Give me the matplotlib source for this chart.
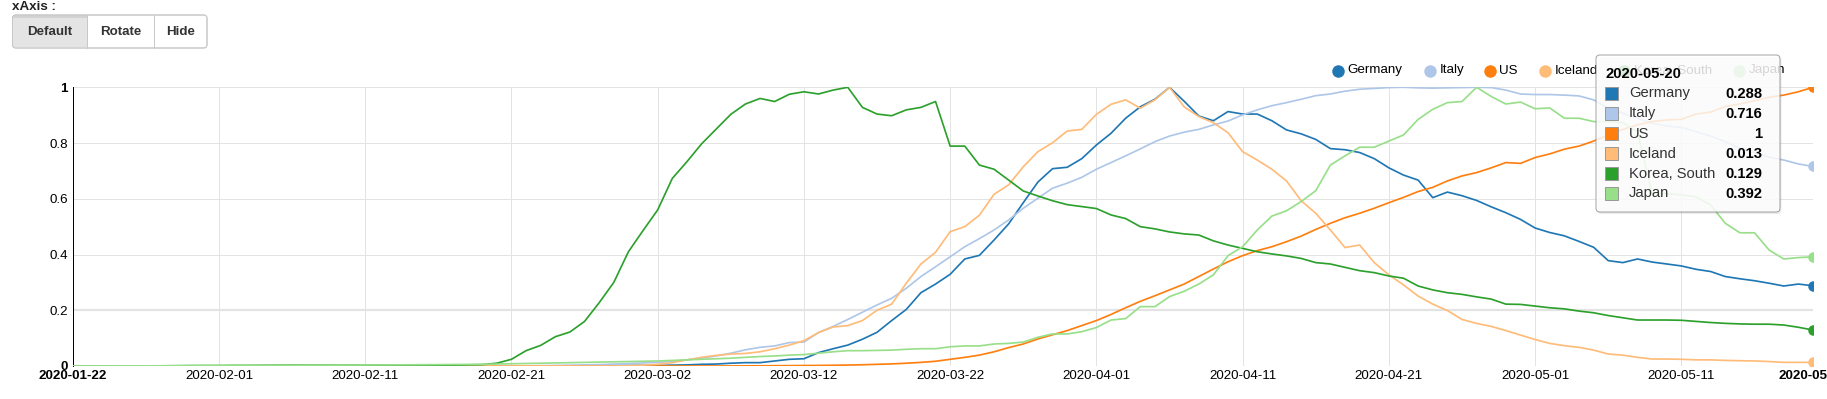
import matplotlib
matplotlib.use("Agg")
import matplotlib.pyplot as plt
import pandas as pd
from matplotlib.patches import FancyBboxPatch, Rectangle
from matplotlib.lines import Line2D

plt.rcParams['font.family'] = ['Liberation Sans', 'DejaVu Sans']

# ---------------- data ----------------
start_date = "2020-01-22"
n_days = 120
dates = pd.date_range(start_date, periods=n_days, freq="D")

countries = ["Germany", "Italy", "US", "Iceland", "Korea, South", "Japan"]
colors = ["#1f77b4", "#aec7e8", "#ff7f0e", "#ffbb78", "#2ca02c", "#98df8a"]

germany = [0, 0, 0, 0, 0, 0, 0.0001, 0.0001, 0.0001, 0.0001,
           0.0001, 0.0001, 0.0002, 0.0002, 0.0002, 0.0002, 0.0002, 0.0002, 0.0002, 0.0002,
           0.0002, 0.0002, 0.0002, 0.0002, 0.0002, 0.0002, 0.0002, 0.0002, 0.0002, 0.0002,
           0.0002, 0.0003, 0.0003, 0.0005, 0.0006, 0.0008, 0.001, 0.0015, 0.002, 0.002,
           0.002, 0.003, 0.004, 0.006, 0.007, 0.01, 0.012, 0.012, 0.018, 0.024,
           0.026, 0.048, 0.062, 0.075, 0.096, 0.121, 0.163, 0.203, 0.263, 0.294,
           0.329, 0.384, 0.397, 0.452, 0.51, 0.586, 0.66, 0.708, 0.713, 0.744,
           0.793, 0.835, 0.889, 0.93, 0.957, 1.0, 0.95, 0.897, 0.88, 0.913,
           0.904, 0.904, 0.88, 0.847, 0.833, 0.813, 0.78, 0.776, 0.766, 0.744,
           0.711, 0.685, 0.667, 0.604, 0.624, 0.611, 0.594, 0.571, 0.55, 0.526,
           0.495, 0.479, 0.467, 0.447, 0.426, 0.378, 0.371, 0.384, 0.373, 0.366,
           0.359, 0.347, 0.339, 0.321, 0.313, 0.306, 0.297, 0.287, 0.294, 0.288]

italy = [0] * 30 + [
           0.0002, 0.0005, 0.0012, 0.002, 0.003, 0.004, 0.005, 0.007, 0.009, 0.011,
           0.013, 0.017, 0.022, 0.028, 0.036, 0.046, 0.058, 0.067, 0.072, 0.084,
           0.086, 0.12, 0.142, 0.167, 0.193, 0.219, 0.243, 0.279, 0.321, 0.356,
           0.392, 0.428, 0.457, 0.488, 0.524, 0.566, 0.602, 0.638, 0.656, 0.677,
           0.706, 0.73, 0.754, 0.779, 0.805, 0.825, 0.839, 0.849, 0.865, 0.879,
           0.901, 0.919, 0.934, 0.945, 0.957, 0.97, 0.976, 0.986, 0.993, 0.996,
           0.999, 1.0, 0.998, 0.997, 0.998, 0.999, 1.0, 0.999, 0.99, 0.976,
           0.974, 0.974, 0.972, 0.969, 0.955, 0.925, 0.907, 0.889, 0.871, 0.861,
           0.856, 0.841, 0.825, 0.805, 0.781, 0.766, 0.749, 0.739, 0.725, 0.716]

us = [0] * 45 + [
           0.0003, 0.0005, 0.0007, 0.001, 0.0013,
           0.0017, 0.002, 0.0026, 0.0034, 0.0045, 0.006, 0.0075, 0.01, 0.013, 0.017,
           0.024, 0.031, 0.039, 0.051, 0.066, 0.079, 0.097, 0.112, 0.127, 0.145,
           0.163, 0.185, 0.209, 0.232, 0.252, 0.273, 0.294, 0.321, 0.348, 0.374,
           0.396, 0.414, 0.428, 0.446, 0.466, 0.49, 0.512, 0.532, 0.548, 0.566,
           0.586, 0.605, 0.626, 0.641, 0.664, 0.682, 0.694, 0.711, 0.73, 0.727,
           0.748, 0.761, 0.778, 0.789, 0.807, 0.829, 0.849, 0.865, 0.877, 0.883,
           0.885, 0.904, 0.911, 0.931, 0.94, 0.952, 0.964, 0.972, 0.984, 1.0]

iceland = [0] * 38 + [
           0.001, 0.003,
           0.006, 0.012, 0.022, 0.031, 0.038, 0.043, 0.045, 0.051, 0.062, 0.075,
           0.091, 0.12, 0.14, 0.145, 0.163, 0.2, 0.222, 0.297, 0.366, 0.408,
           0.482, 0.5, 0.541, 0.616, 0.65, 0.715, 0.769, 0.801, 0.843, 0.849,
           0.903, 0.939, 0.955, 0.925, 0.955, 1.0, 0.93, 0.895, 0.873, 0.837,
           0.769, 0.739, 0.706, 0.664, 0.593, 0.548, 0.488, 0.425, 0.434, 0.371,
           0.327, 0.291, 0.251, 0.222, 0.199, 0.167, 0.153, 0.142, 0.127, 0.111,
           0.095, 0.081, 0.073, 0.067, 0.057, 0.043, 0.039, 0.031, 0.025, 0.025,
           0.024, 0.022, 0.022, 0.02, 0.019, 0.018, 0.016, 0.013, 0.013, 0.013]

korea = [0.0001, 0.0001, 0.0003, 0.0003, 0.0004, 0.0005, 0.0005, 0.0009, 0.0014, 0.0015,
         0.0015, 0.002, 0.002, 0.0025, 0.0028, 0.003, 0.003, 0.003, 0.003, 0.003,
         0.003, 0.003, 0.003, 0.003, 0.003, 0.003, 0.003, 0.004, 0.005, 0.01,
         0.024, 0.055, 0.074, 0.105, 0.122, 0.16, 0.227, 0.3, 0.41, 0.486,
         0.56, 0.673, 0.733, 0.797, 0.85, 0.903, 0.94, 0.96, 0.949, 0.975,
         0.984, 0.976, 0.99, 1.0, 0.928, 0.904, 0.898, 0.919, 0.928, 0.949,
         0.789, 0.789, 0.721, 0.706, 0.667, 0.628, 0.61, 0.593, 0.579, 0.572,
         0.565, 0.542, 0.529, 0.5, 0.492, 0.481, 0.474, 0.47, 0.449, 0.434,
         0.422, 0.41, 0.402, 0.395, 0.386, 0.371, 0.366, 0.354, 0.342, 0.335,
         0.323, 0.315, 0.287, 0.273, 0.263, 0.257, 0.248, 0.24, 0.222, 0.221,
         0.215, 0.209, 0.205, 0.197, 0.191, 0.181, 0.173, 0.165, 0.165, 0.165,
         0.164, 0.16, 0.156, 0.153, 0.151, 0.15, 0.15, 0.147, 0.139, 0.129]

japan = [0.0002, 0.0002, 0.0003, 0.0003, 0.0004, 0.0005, 0.0007, 0.001, 0.0013, 0.0015,
         0.002, 0.002, 0.002, 0.0022, 0.0022, 0.0024, 0.0026, 0.0028, 0.003, 0.0033,
         0.0035, 0.0038, 0.004, 0.0043, 0.0046, 0.005, 0.0054, 0.0058, 0.006, 0.007,
         0.008, 0.009, 0.01, 0.011, 0.012, 0.013, 0.014, 0.015, 0.016, 0.017,
         0.018, 0.02, 0.022, 0.024, 0.026, 0.028, 0.031, 0.034, 0.036, 0.039,
         0.041, 0.046, 0.051, 0.055, 0.055, 0.056, 0.057, 0.06, 0.062, 0.062,
         0.069, 0.072, 0.072, 0.079, 0.081, 0.086, 0.103, 0.115, 0.115, 0.123,
         0.138, 0.165, 0.17, 0.213, 0.213, 0.249, 0.268, 0.294, 0.327, 0.396,
         0.428, 0.488, 0.538, 0.557, 0.59, 0.629, 0.721, 0.754, 0.785, 0.785,
         0.807, 0.829, 0.885, 0.921, 0.945, 0.949, 1.0, 0.967, 0.94, 0.947,
         0.923, 0.926, 0.889, 0.889, 0.877, 0.877, 0.873, 0.84, 0.62, 0.618,
         0.614, 0.607, 0.578, 0.512, 0.478, 0.478, 0.416, 0.384, 0.389, 0.392]

series = [germany, italy, us, iceland, korea, japan]

x_tick_step_days = 10
y_ticks = [0, 0.2, 0.4, 0.6, 0.8, 1]
buttons = ["Default", "Rotate", "Hide"]
axis_title = "xAxis :"

# ---------------- layout (pixels) ----------------
W, H = 1827, 399
DPI = 100
PX = 72.0 / DPI  # points per pixel

fig = plt.figure(figsize=(W / DPI, H / DPI), dpi=DPI)
fig.patch.set_facecolor("white")

ax_l, ax_r, ax_t, ax_b = 72.7, 1813.0, 87.3, 366.0
ax = fig.add_axes([ax_l / W, 1 - ax_b / H, (ax_r - ax_l) / W, (ax_b - ax_t) / H])

grid_c = "#e3e3e3"
for i, (name, vals) in enumerate(zip(countries, series)):
    ax.plot(dates, vals, color=colors[i], lw=1.7 * PX, zorder=3 + i * 0.1,
            solid_joinstyle="round")
    ax.plot([dates[-1]], [vals[-1]], "o", color=colors[i], ms=10.5 * PX,
            mew=0, zorder=4 + i * 0.1)

ax.set_xlim(dates[0], dates[-1])
ax.set_ylim(0, 1)

# ticks
tick_dates = list(dates[::x_tick_step_days])
if tick_dates[-1] != dates[-1]:
    tick_dates.append(dates[-1])
ax.set_xticks(tick_dates)
ax.set_xticklabels([d.strftime("%Y-%m-%d") for d in tick_dates])
ax.set_yticks(y_ticks)
ax.set_yticklabels([("%g" % v) for v in y_ticks])
fs_tick = 13.4 * PX
ax.tick_params(axis="both", length=0, labelsize=fs_tick, labelcolor="#000")
ax.tick_params(axis="x", pad=3.0)
ax.tick_params(axis="y", pad=3.3)
xl = ax.get_xticklabels()
xl[0].set_fontweight("bold")
xl[-1].set_fontweight("bold")
yl = ax.get_yticklabels()
yl[0].set_fontweight("bold")
yl[-1].set_fontweight("bold")
for t in xl + yl:
    t.set_clip_on(False)

# grid
for d in tick_dates:
    ax.axvline(d, color=grid_c, lw=1 * PX, zorder=1)
for v in y_ticks:
    ax.axhline(v, color=grid_c, lw=(2.2 if v == 0.2 else 1.0) * PX, zorder=1)

for s in ["top", "right", "bottom"]:
    ax.spines[s].set_visible(False)
ax.spines["left"].set_color("#000")
ax.spines["left"].set_linewidth(1 * PX)
ax.spines["left"].set_zorder(2)

# ---------------- overlay (controls, legend, tooltip) ----------------
ov = fig.add_axes([0, 0, 1, 1], zorder=5)
ov.set_xlim(0, W)
ov.set_ylim(H, 0)
ov.axis("off")
ov.patch.set_visible(False)

fs_ui = 13.4 * PX
ov.text(12, 7, axis_title, fontsize=fs_ui, fontweight="bold", color="#222",
        ha="left", va="center")

bx0, bx1, by0, by1 = 12.5, 207.0, 15.0, 48.0
divs = [bx0, 87.0, 154.0, bx1]
outer = FancyBboxPatch((bx0, by0), bx1 - bx0, by1 - by0,
                       boxstyle="round,pad=0,rounding_size=3.5",
                       fc="white", ec="#c8c8c8", lw=1 * PX, zorder=1)
ov.add_patch(outer)
active = Rectangle((divs[0], by0), divs[1] - divs[0], by1 - by0, fc="#e4e4e4",
                   ec="none", zorder=1.5)
ov.add_patch(active)
active.set_clip_path(outer)
shade = Rectangle((divs[0], by0), divs[1] - divs[0], 3, fc="#d2d2d2",
                  ec="none", zorder=1.6)
ov.add_patch(shade)
shade.set_clip_path(outer)
outer2 = FancyBboxPatch((bx0, by0), bx1 - bx0, by1 - by0,
                        boxstyle="round,pad=0,rounding_size=3.5",
                        fc="none", ec="#c8c8c8", lw=1 * PX, zorder=2)
ov.add_patch(outer2)
for xd in divs[1:-1]:
    ov.add_line(Line2D([xd, xd], [by0, by1], color="#c8c8c8", lw=1 * PX, zorder=2))
for i, b in enumerate(buttons):
    ov.text((divs[i] + divs[i + 1]) / 2, (by0 + by1) / 2 + 0.5, b, fontsize=fs_ui,
            fontweight="bold", color="#333", ha="center", va="center", zorder=3)

# legend
leg_y = 70.5
leg_cx = [1338, 1430, 1490, 1545, 1624, 1739]
for i, name in enumerate(countries):
    ov.add_line(Line2D([leg_cx[i]], [leg_y], marker="o", ms=12.5 * PX, mew=0,
                       color=colors[i], zorder=2))
    ov.text(leg_cx[i] + 9.5, leg_y, name, fontsize=fs_ui, color="#000",
            ha="left", va="center", zorder=2)

# tooltip
tx0, ty0, tx1, ty1 = 1596, 55, 1780, 212
shadow = FancyBboxPatch((tx0 + 1.5, ty0 + 2), tx1 - tx0, ty1 - ty0,
                        boxstyle="round,pad=0,rounding_size=4",
                        fc="#000", alpha=0.08, ec="none", zorder=9)
ov.add_patch(shadow)
tip = FancyBboxPatch((tx0, ty0), tx1 - tx0, ty1 - ty0,
                     boxstyle="round,pad=0,rounding_size=4",
                     fc=(1, 1, 1, 0.84), ec=(0.55, 0.55, 0.55, 0.8), lw=1 * PX, zorder=10)
ov.add_patch(tip)
fs_tip = 14.8 * PX
ov.text(1605, 73.5, dates[-1].strftime("%Y-%m-%d"), fontsize=fs_tip, fontweight="bold",
        color="#000", ha="left", va="center", zorder=11)
for i, name in enumerate(countries):
    yy = 93.5 + 20 * i
    ov.add_patch(Rectangle((1605, yy - 6.5), 13, 13, fc=colors[i], ec="#999",
                           lw=1 * PX, zorder=11))
    ov.text(1629, yy, name, fontsize=fs_tip, color="#333", ha="left", va="center",
            zorder=11)
    v = series[i][-1]
    vs = ("%.3f" % v).rstrip("0").rstrip(".")
    ov.text(1762, yy, vs, fontsize=fs_tip, fontweight="bold", color="#000",
            ha="right", va="center", zorder=11)

fig.savefig("out.png", dpi=DPI)
